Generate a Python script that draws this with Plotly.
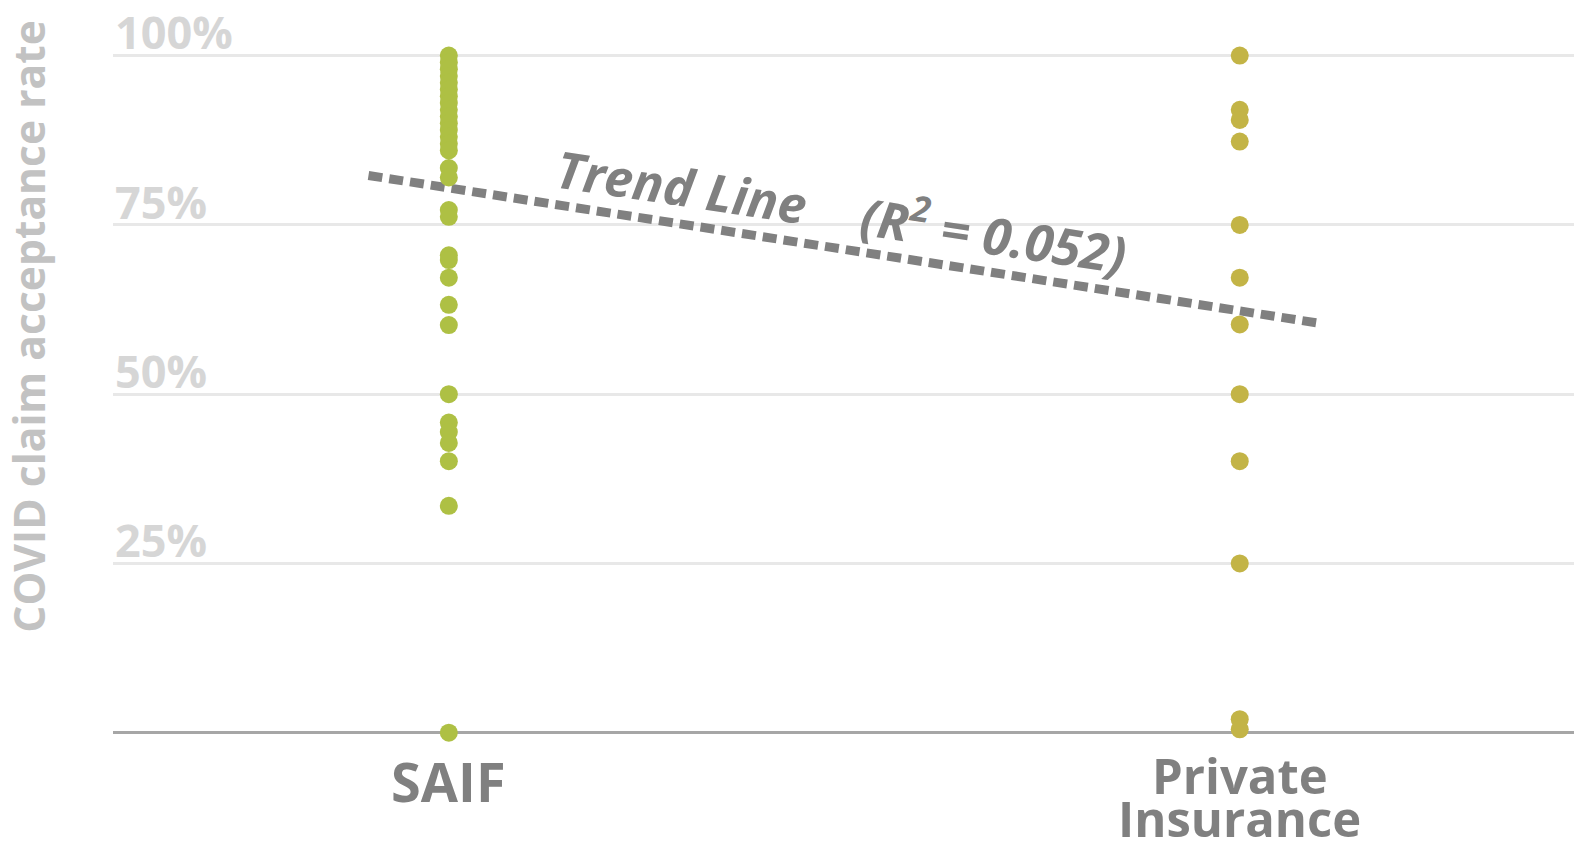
import plotly.graph_objects as go

categories = ["SAIF", "Private", "Insurance"]
cat_x = [0, 1]

saif_rates = [100, 99, 98, 97, 96, 95, 94, 93, 92, 91, 90, 89, 88, 87, 86,
              83.4, 82, 77.2, 76.2, 70.5, 69.8, 67.2, 63.2, 60.2,
              50, 45.8, 44.4, 42.8, 40.1, 33.5, 0]
private_rates = [100, 92, 90.5, 87.3, 75, 67.2, 60.3, 50, 40.1, 25, 2, 0.5]

trend_x = [-0.1016, 1.099]
trend_y = [82.3, 60.5]

grid_vals = [25, 50, 75, 100]
grid_text = ["25%", "50%", "75%", "100%"]

FONT = "Open Sans"
SAIF_C = "#aec044"
PRIV_C = "#c3b446"
GRAY = "#808080"

fig = go.Figure()
fig.add_trace(go.Scatter(x=trend_x, y=trend_y, mode="lines",
                         line=dict(color=GRAY, width=9, dash="14px,7px"),
                         hoverinfo="skip", showlegend=False))
fig.add_trace(go.Scatter(x=[cat_x[0]] * len(saif_rates), y=saif_rates, mode="markers",
                         marker=dict(color=SAIF_C, size=18, line=dict(width=0)),
                         cliponaxis=False, showlegend=False, name="SAIF"))
fig.add_trace(go.Scatter(x=[cat_x[1]] * len(private_rates), y=private_rates, mode="markers",
                         marker=dict(color=PRIV_C, size=18, line=dict(width=0)),
                         cliponaxis=False, showlegend=False, name="Private Insurance"))

ann = []
for v, t in zip(grid_vals, grid_text):
    ann.append(dict(x=0, xref="paper", y=v + 3.5, yref="y", text="<b>%s</b>" % t,
                    xanchor="left", yanchor="middle", showarrow=False,
                    font=dict(family=FONT, size=45, color="#d6d6d6")))

ann.append(dict(x=-0.0582, xref="paper", y=0.579, yref="paper",
                text="<b>COVID claim acceptance rate</b>", textangle=-90,
                showarrow=False, xanchor="center", yanchor="middle",
                font=dict(family=FONT, size=42.6, color="#c2c2c2")))

ann.append(dict(x=cat_x[0], xref="x", y=-0.038, yref="paper", text="<b>%s</b>" % categories[0],
                showarrow=False, xanchor="center", yanchor="middle",
                font=dict(family=FONT, size=54, color=GRAY)))
for txt, yy in [(categories[1], -0.0298), (categories[2], -0.088)]:
    ann.append(dict(x=cat_x[1], xref="x", y=yy, yref="paper", text="<b>%s</b>" % txt,
                    showarrow=False, xanchor="center", yanchor="middle",
                    font=dict(family=FONT, size=49, color=GRAY)))

ann.append(dict(x=0.295, xref="x", y=80.8, yref="y", text="<b><i>Trend Line</i></b>",
                textangle=8.5, showarrow=False, xanchor="center", yanchor="middle",
                font=dict(family=FONT, size=51, color=GRAY)))
ann.append(dict(x=0.689, xref="x", y=73.9, yref="y",
                text="<b><i>(R<sup>2</sup> = 0.052)</i></b>",
                textangle=8.5, showarrow=False, xanchor="center", yanchor="middle",
                font=dict(family=FONT, size=51, color=GRAY)))

fig.update_layout(
    width=1576, height=850,
    margin=dict(l=113, r=2, t=15, b=97),
    paper_bgcolor="white", plot_bgcolor="white",
    xaxis=dict(range=[-0.4246, 1.4226], showgrid=False, zeroline=False,
               showticklabels=False, ticks="", fixedrange=True),
    yaxis=dict(range=[-3, 106], tickvals=grid_vals, showticklabels=False,
               gridcolor="#e8e8e8", gridwidth=3, zeroline=True,
               zerolinecolor="#a6a6a6", zerolinewidth=3, ticks="", fixedrange=True),
    annotations=ann,
    font=dict(family=FONT),
)

fig.write_html("out.html", config={"displayModeBar": False},
               post_script="document.body.style.margin='0';document.body.style.overflow='hidden';")
